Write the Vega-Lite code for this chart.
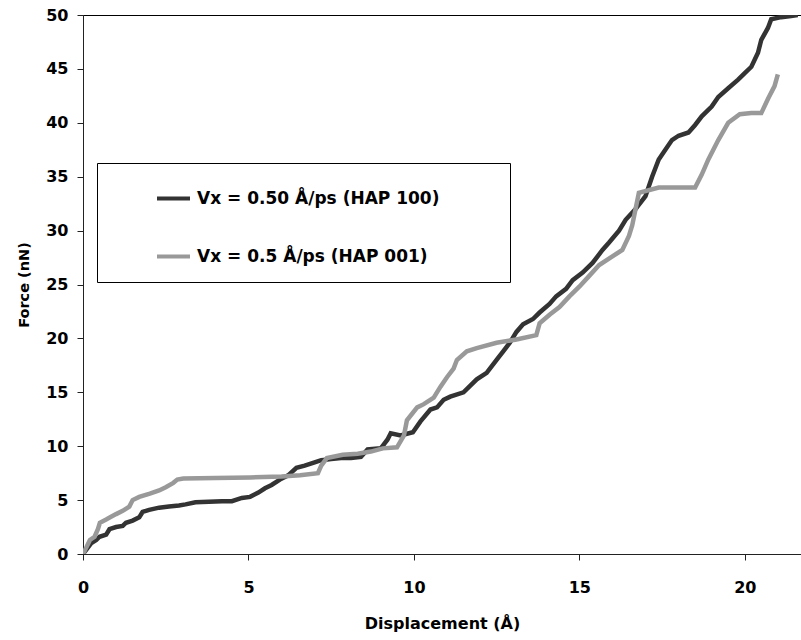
{
  "$schema": "https://vega.github.io/schema/vega-lite/v6.json",
  "autosize": {"type": "none"},
  "padding": {"left": 83, "top": 15, "right": 0, "bottom": 86},
  "width": 718,
  "height": 539,
  "background": "white",
  "config": {
    "view": {"stroke": "#000", "strokeWidth": 1},
    "font": "DejaVu Sans",
    "axis": {"grid": false, "domainColor": "#222", "tickColor": "#222", "labelColor": "#000", "titleColor": "#000", "labelFont": "DejaVu Sans", "titleFont": "DejaVu Sans", "labelFontWeight": "bold", "titleFontWeight": "bold"}
  },
  "data": {"values": [
    {"s":"HAP 100","x":0,"y":0},{"s":"HAP 100","x":0.1,"y":0.4},{"s":"HAP 100","x":0.25,"y":1.0},{"s":"HAP 100","x":0.4,"y":1.3},{"s":"HAP 100","x":0.5,"y":1.6},{"s":"HAP 100","x":0.7,"y":1.8},{"s":"HAP 100","x":0.8,"y":2.3},{"s":"HAP 100","x":1.0,"y":2.5},{"s":"HAP 100","x":1.2,"y":2.6},{"s":"HAP 100","x":1.3,"y":2.9},{"s":"HAP 100","x":1.5,"y":3.1},{"s":"HAP 100","x":1.7,"y":3.4},{"s":"HAP 100","x":1.8,"y":3.9},{"s":"HAP 100","x":2.0,"y":4.1},{"s":"HAP 100","x":2.3,"y":4.3},{"s":"HAP 100","x":2.6,"y":4.4},{"s":"HAP 100","x":2.9,"y":4.5},{"s":"HAP 100","x":3.1,"y":4.6},{"s":"HAP 100","x":3.4,"y":4.8},{"s":"HAP 100","x":3.8,"y":4.85},{"s":"HAP 100","x":4.2,"y":4.9},{"s":"HAP 100","x":4.5,"y":4.9},{"s":"HAP 100","x":4.8,"y":5.2},{"s":"HAP 100","x":5.05,"y":5.3},{"s":"HAP 100","x":5.3,"y":5.7},{"s":"HAP 100","x":5.5,"y":6.1},{"s":"HAP 100","x":5.7,"y":6.4},{"s":"HAP 100","x":5.95,"y":6.9},{"s":"HAP 100","x":6.2,"y":7.3},{"s":"HAP 100","x":6.45,"y":8.0},{"s":"HAP 100","x":6.7,"y":8.2},{"s":"HAP 100","x":7.0,"y":8.5},{"s":"HAP 100","x":7.2,"y":8.7},{"s":"HAP 100","x":7.5,"y":8.8},{"s":"HAP 100","x":7.8,"y":8.9},{"s":"HAP 100","x":8.1,"y":8.9},{"s":"HAP 100","x":8.4,"y":9.0},{"s":"HAP 100","x":8.6,"y":9.7},{"s":"HAP 100","x":9.0,"y":9.8},{"s":"HAP 100","x":9.2,"y":10.6},{"s":"HAP 100","x":9.3,"y":11.2},{"s":"HAP 100","x":9.6,"y":11.0},{"s":"HAP 100","x":9.97,"y":11.3},{"s":"HAP 100","x":10.2,"y":12.3},{"s":"HAP 100","x":10.5,"y":13.4},{"s":"HAP 100","x":10.7,"y":13.6},{"s":"HAP 100","x":10.9,"y":14.3},{"s":"HAP 100","x":11.1,"y":14.6},{"s":"HAP 100","x":11.5,"y":15.0},{"s":"HAP 100","x":11.9,"y":16.2},{"s":"HAP 100","x":12.2,"y":16.8},{"s":"HAP 100","x":12.5,"y":18.0},{"s":"HAP 100","x":12.7,"y":18.8},{"s":"HAP 100","x":12.9,"y":19.6},{"s":"HAP 100","x":13.1,"y":20.6},{"s":"HAP 100","x":13.3,"y":21.3},{"s":"HAP 100","x":13.6,"y":21.8},{"s":"HAP 100","x":13.8,"y":22.4},{"s":"HAP 100","x":14.1,"y":23.2},{"s":"HAP 100","x":14.3,"y":23.9},{"s":"HAP 100","x":14.6,"y":24.6},{"s":"HAP 100","x":14.8,"y":25.4},{"s":"HAP 100","x":15.1,"y":26.1},{"s":"HAP 100","x":15.4,"y":27.0},{"s":"HAP 100","x":15.7,"y":28.2},{"s":"HAP 100","x":15.9,"y":28.9},{"s":"HAP 100","x":16.2,"y":30.0},{"s":"HAP 100","x":16.4,"y":31.0},{"s":"HAP 100","x":16.7,"y":32.0},{"s":"HAP 100","x":17.0,"y":33.2},{"s":"HAP 100","x":17.2,"y":35.0},{"s":"HAP 100","x":17.4,"y":36.6},{"s":"HAP 100","x":17.6,"y":37.5},{"s":"HAP 100","x":17.8,"y":38.4},{"s":"HAP 100","x":18.0,"y":38.8},{"s":"HAP 100","x":18.3,"y":39.1},{"s":"HAP 100","x":18.5,"y":39.8},{"s":"HAP 100","x":18.7,"y":40.6},{"s":"HAP 100","x":19.0,"y":41.5},{"s":"HAP 100","x":19.2,"y":42.4},{"s":"HAP 100","x":19.5,"y":43.2},{"s":"HAP 100","x":19.8,"y":44.0},{"s":"HAP 100","x":20.0,"y":44.6},{"s":"HAP 100","x":20.2,"y":45.2},{"s":"HAP 100","x":20.4,"y":46.5},{"s":"HAP 100","x":20.5,"y":47.7},{"s":"HAP 100","x":20.7,"y":48.8},{"s":"HAP 100","x":20.8,"y":49.6},{"s":"HAP 100","x":21.1,"y":49.8},{"s":"HAP 100","x":21.4,"y":49.9},{"s":"HAP 100","x":21.6,"y":50.0},
    {"s":"HAP 001","x":0,"y":0},{"s":"HAP 001","x":0.1,"y":0.6},{"s":"HAP 001","x":0.21,"y":1.3},{"s":"HAP 001","x":0.35,"y":1.6},{"s":"HAP 001","x":0.45,"y":2.3},{"s":"HAP 001","x":0.51,"y":2.9},{"s":"HAP 001","x":0.7,"y":3.2},{"s":"HAP 001","x":0.82,"y":3.4},{"s":"HAP 001","x":1.0,"y":3.7},{"s":"HAP 001","x":1.2,"y":4.0},{"s":"HAP 001","x":1.4,"y":4.4},{"s":"HAP 001","x":1.5,"y":5.0},{"s":"HAP 001","x":1.7,"y":5.3},{"s":"HAP 001","x":2.02,"y":5.6},{"s":"HAP 001","x":2.3,"y":5.9},{"s":"HAP 001","x":2.5,"y":6.2},{"s":"HAP 001","x":2.73,"y":6.6},{"s":"HAP 001","x":2.85,"y":6.9},{"s":"HAP 001","x":3.03,"y":7.0},{"s":"HAP 001","x":4.0,"y":7.05},{"s":"HAP 001","x":5.05,"y":7.1},{"s":"HAP 001","x":6.0,"y":7.2},{"s":"HAP 001","x":6.56,"y":7.3},{"s":"HAP 001","x":7.1,"y":7.5},{"s":"HAP 001","x":7.2,"y":8.2},{"s":"HAP 001","x":7.37,"y":8.9},{"s":"HAP 001","x":7.85,"y":9.2},{"s":"HAP 001","x":8.3,"y":9.3},{"s":"HAP 001","x":8.7,"y":9.5},{"s":"HAP 001","x":9.06,"y":9.8},{"s":"HAP 001","x":9.49,"y":9.9},{"s":"HAP 001","x":9.7,"y":11.0},{"s":"HAP 001","x":9.79,"y":12.4},{"s":"HAP 001","x":10.1,"y":13.6},{"s":"HAP 001","x":10.3,"y":13.9},{"s":"HAP 001","x":10.6,"y":14.5},{"s":"HAP 001","x":10.8,"y":15.5},{"s":"HAP 001","x":11.0,"y":16.4},{"s":"HAP 001","x":11.2,"y":17.2},{"s":"HAP 001","x":11.3,"y":18.0},{"s":"HAP 001","x":11.6,"y":18.8},{"s":"HAP 001","x":11.9,"y":19.1},{"s":"HAP 001","x":12.5,"y":19.6},{"s":"HAP 001","x":13.1,"y":19.9},{"s":"HAP 001","x":13.7,"y":20.3},{"s":"HAP 001","x":13.8,"y":21.4},{"s":"HAP 001","x":14.1,"y":22.2},{"s":"HAP 001","x":14.4,"y":22.9},{"s":"HAP 001","x":14.7,"y":23.9},{"s":"HAP 001","x":15.0,"y":24.8},{"s":"HAP 001","x":15.3,"y":25.8},{"s":"HAP 001","x":15.6,"y":26.8},{"s":"HAP 001","x":16.0,"y":27.6},{"s":"HAP 001","x":16.3,"y":28.2},{"s":"HAP 001","x":16.5,"y":29.5},{"s":"HAP 001","x":16.6,"y":30.5},{"s":"HAP 001","x":16.7,"y":32.0},{"s":"HAP 001","x":16.8,"y":33.5},{"s":"HAP 001","x":17.4,"y":34.0},{"s":"HAP 001","x":18.0,"y":34.0},{"s":"HAP 001","x":18.5,"y":34.0},{"s":"HAP 001","x":18.7,"y":35.2},{"s":"HAP 001","x":18.9,"y":36.6},{"s":"HAP 001","x":19.2,"y":38.4},{"s":"HAP 001","x":19.5,"y":40.0},{"s":"HAP 001","x":19.85,"y":40.8},{"s":"HAP 001","x":20.2,"y":40.9},{"s":"HAP 001","x":20.5,"y":40.9},{"s":"HAP 001","x":20.7,"y":42.2},{"s":"HAP 001","x":20.9,"y":43.4},{"s":"HAP 001","x":21.0,"y":44.5}
  ]},
  "mark": {"type": "line", "strokeWidth": 4.5, "clip": true},
  "encoding": {
    "x": {"field": "x", "type": "quantitative", "scale": {"domain": [0, 21.7], "nice": false, "zero": false},
      "axis": {"title": "Displacement (Å)", "values": [0, 5, 10, 15, 20], "labelFontSize": 16, "titleFontSize": 16, "tickSize": 6, "labelPadding": 19, "titlePadding": 20, "labelFlush": false}},
    "y": {"field": "y", "type": "quantitative", "scale": {"domain": [0, 50], "nice": false},
      "axis": {"title": "Force (nN)", "values": [0, 5, 10, 15, 20, 25, 30, 35, 40, 45, 50], "labelFontSize": 16, "titleFontSize": 14.5, "tickSize": 6, "labelPadding": 9, "titlePadding": 14}},
    "color": {"field": "s", "type": "nominal",
      "scale": {"domain": ["HAP 100", "HAP 001"], "range": ["#333333", "#999999"]},
      "legend": {"orient": "none", "legendX": 14, "legendY": 148, "title": null,
        "labelExpr": "datum.value == 'HAP 100' ? 'Vx = 0.50 Å/ps (HAP 100)\u2800\u2800\u2800\u2800' : 'Vx = 0.5 Å/ps (HAP 001)'",
        "fillColor": "white", "strokeColor": "#000", "padding": 17,
        "symbolType": "stroke", "symbolSize": 1089, "symbolStrokeWidth": 4, "symbolOffset": 41,
        "labelFontSize": 17, "labelFontWeight": "bold", "labelFont": "DejaVu Sans", "labelColor": "#000", "labelOffset": 5, "labelLimit": 450,
        "rowPadding": 31}}
  }
}
